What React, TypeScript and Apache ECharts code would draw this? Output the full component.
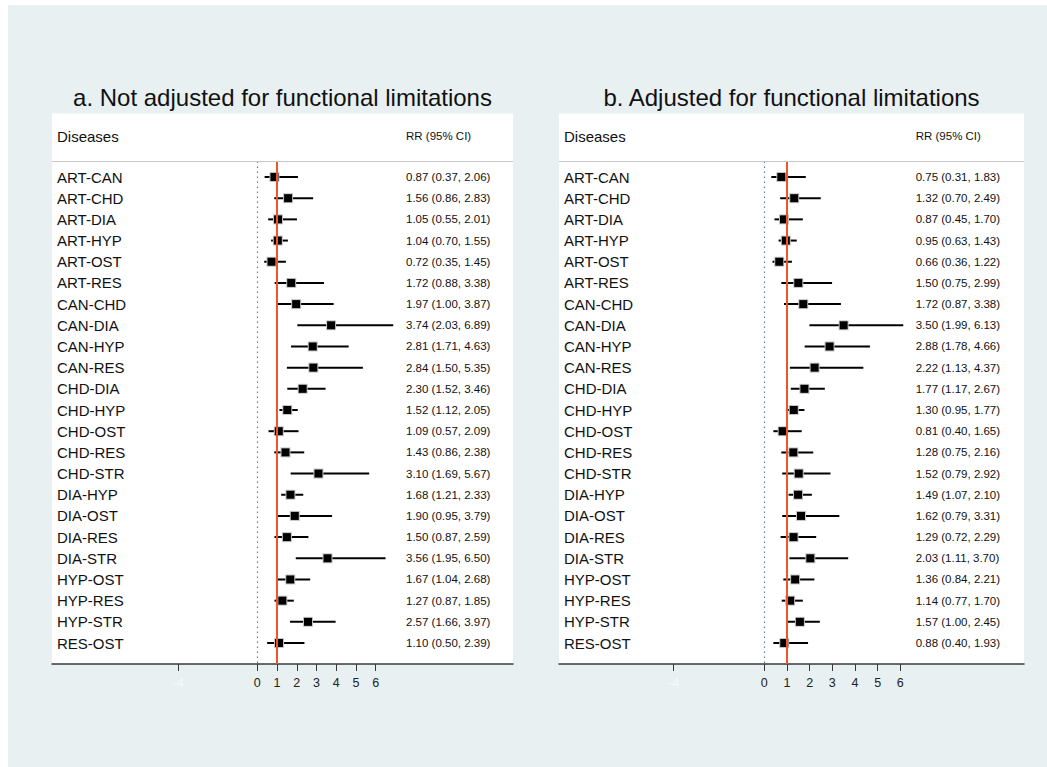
import React, { useEffect, useRef } from "react";
import * as echarts from "echarts";

const diseases = [
  "ART-CAN", "ART-CHD", "ART-DIA", "ART-HYP", "ART-OST", "ART-RES", "CAN-CHD", "CAN-DIA",
  "CAN-HYP", "CAN-RES", "CHD-DIA", "CHD-HYP", "CHD-OST", "CHD-RES", "CHD-STR", "DIA-HYP",
  "DIA-OST", "DIA-RES", "DIA-STR", "HYP-OST", "HYP-RES", "HYP-STR", "RES-OST",
];

const rrA = [0.87, 1.56, 1.05, 1.04, 0.72, 1.72, 1.97, 3.74, 2.81, 2.84, 2.30, 1.52, 1.09, 1.43, 3.10, 1.68, 1.90, 1.50, 3.56, 1.67, 1.27, 2.57, 1.10];
const loA = [0.37, 0.86, 0.55, 0.70, 0.35, 0.88, 1.00, 2.03, 1.71, 1.50, 1.52, 1.12, 0.57, 0.86, 1.69, 1.21, 0.95, 0.87, 1.95, 1.04, 0.87, 1.66, 0.50];
const hiA = [2.06, 2.83, 2.01, 1.55, 1.45, 3.38, 3.87, 6.89, 4.63, 5.35, 3.46, 2.05, 2.09, 2.38, 5.67, 2.33, 3.79, 2.59, 6.50, 2.68, 1.85, 3.97, 2.39];

const rrB = [0.75, 1.32, 0.87, 0.95, 0.66, 1.50, 1.72, 3.50, 2.88, 2.22, 1.77, 1.30, 0.81, 1.28, 1.52, 1.49, 1.62, 1.29, 2.03, 1.36, 1.14, 1.57, 0.88];
const loB = [0.31, 0.70, 0.45, 0.63, 0.36, 0.75, 0.87, 1.99, 1.78, 1.13, 1.17, 0.95, 0.40, 0.75, 0.79, 1.07, 0.79, 0.72, 1.11, 0.84, 0.77, 1.00, 0.40];
const hiB = [1.83, 2.49, 1.70, 1.43, 1.22, 2.99, 3.38, 6.13, 4.66, 4.37, 2.67, 1.77, 1.65, 2.16, 2.92, 2.10, 3.31, 2.29, 3.70, 2.21, 1.70, 2.45, 1.93];

const xTicks = [-4, 0, 1, 2, 3, 4, 5, 6];
const titles = ["a. Not adjusted for functional limitations", "b. Adjusted for functional limitations"];
const headerLeft = "Diseases";
const headerRight = "RR (95% CI)";

const FONT = "'Liberation Sans', Arial, Helvetica, sans-serif";

export default function App() {
  const ref = useRef<HTMLDivElement>(null);
  useEffect(() => {
    if (!ref.current) return;
    const chart = echarts.init(ref.current, null, { renderer: "svg" });

    const panelTop = 113.5;
    const sepY = 161.5;
    const axisY = 664;
    const yMin = -0.732;
    const yMax = 22.99;
    const panels = [
      { left: 52, right: 513, xMin: -10.405, xMax: 12.96, rr: rrA, lo: loA, hi: hiA, rrMargin: 107 },
      { left: 559, right: 1024, xMin: -9.056, xMax: 11.456, rr: rrB, lo: loB, hi: hiB, rrMargin: 108.3 },
    ];
    const rows = diseases.map((_, i) => i);
    const f2 = (v: number) => v.toFixed(2);

    const grid: any[] = [];
    const xAxis: any[] = [];
    const yAxis: any[] = [];
    const series: any[] = [];
    const graphic: any[] = [
      { type: "rect", z: -100, shape: { x: 8, y: 5, width: 1039, height: 762 }, style: { fill: "#e8f0f2" } },
    ];

    panels.forEach((p, i) => {
      const rrText = p.rr.map((v, k) => `${f2(v)} (${f2(p.lo[k])}, ${f2(p.hi[k])})`);
      grid.push({ left: p.left, top: sepY, width: p.right - p.left, height: axisY - sepY });
      xAxis.push({
        gridIndex: i,
        type: "value",
        min: p.xMin,
        max: p.xMax,
        position: "bottom",
        splitLine: { show: false },
        axisLine: { show: true, onZero: false, lineStyle: { color: "#3a3a3a", width: 1.5 } },
        axisTick: { show: true, customValues: xTicks, length: 7, lineStyle: { color: "#3a3a3a", width: 1 } },
        axisLabel: {
          customValues: xTicks,
          formatter: (v: number) => (v === -4 ? "{w|-4}" : String(v)),
          rich: { w: { color: "#f6fafb", fontSize: 12.5, fontFamily: FONT } },
          color: "#222",
          fontSize: 12.5,
          fontFamily: FONT,
          margin: 12,
        },
      });
      yAxis.push({
        gridIndex: i,
        type: "value",
        inverse: true,
        min: yMin,
        max: yMax,
        position: "left",
        splitLine: { show: false },
        axisLine: { show: false, onZero: false },
        axisTick: { show: false },
        axisLabel: {
          inside: true,
          margin: 5,
          customValues: rows,
          formatter: (v: number) => diseases[Math.round(v)] ?? "",
          color: "#111",
          fontSize: 15,
          fontFamily: FONT,
          align: "left",
        },
      });
      yAxis.push({
        gridIndex: i,
        type: "value",
        inverse: true,
        min: yMin,
        max: yMax,
        position: "right",
        splitLine: { show: false },
        axisLine: { show: false, onZero: false },
        axisTick: { show: false },
        axisLabel: {
          inside: true,
          margin: p.rrMargin,
          customValues: rows,
          formatter: (v: number) => rrText[Math.round(v)] ?? "",
          color: "#111",
          fontSize: 11.5,
          fontFamily: FONT,
          align: "left",
        },
      });

      series.push({
        type: "scatter",
        xAxisIndex: i,
        yAxisIndex: 2 * i,
        data: [],
        z: 1,
        silent: true,
        markLine: {
          silent: true,
          symbol: "none",
          label: { show: false },
          data: [
            { xAxis: 0, lineStyle: { color: "#5f7fa8", width: 1.2, type: [1.5, 3.5] } },
            { xAxis: 1, lineStyle: { color: "#ee5528", width: 2, type: "solid" } },
          ],
        },
      });
      series.push({
        type: "custom",
        xAxisIndex: i,
        yAxisIndex: 2 * i,
        z: 3,
        data: rows.map((k) => [p.lo[k], p.hi[k], p.rr[k], k]),
        encode: { x: [0, 1, 2], y: 3 },
        renderItem: (params: any, api: any) => {
          const row = api.value(3);
          const a = api.coord([api.value(0), row]);
          const b = api.coord([api.value(1), row]);
          const c = api.coord([api.value(2), row]);
          return {
            type: "group",
            children: [
              { type: "line", shape: { x1: a[0], y1: a[1], x2: b[0], y2: b[1] }, style: { stroke: "#000", lineWidth: 2 } },
              { type: "rect", shape: { x: c[0] - 5, y: c[1] - 5, width: 10, height: 10 }, style: { fill: "#c4c4c4" } },
              { type: "rect", shape: { x: c[0] - 4, y: c[1] - 4, width: 8, height: 8 }, style: { fill: "#000" } },
            ],
          };
        },
      });

      graphic.push(
        { type: "rect", z: -50, shape: { x: p.left, y: panelTop, width: p.right - p.left, height: axisY - panelTop }, style: { fill: "#ffffff" } },
        { type: "line", z: 50, shape: { x1: p.left, y1: sepY, x2: p.right, y2: sepY }, style: { stroke: "#c8c8c8", lineWidth: 1 } },
        {
          type: "text", z: 50, x: (p.left + p.right) / 2, y: 97,
          style: { text: titles[i], fill: "#111", font: `24px ${FONT}`, textAlign: "center", textVerticalAlign: "middle" },
        },
        {
          type: "text", z: 50, x: p.left + 5, y: 136,
          style: { text: headerLeft, fill: "#111", font: `15px ${FONT}`, textAlign: "left", textVerticalAlign: "middle" },
        },
        {
          type: "text", z: 50, x: p.right - p.rrMargin, y: 136,
          style: { text: headerRight, fill: "#111", font: `11.5px ${FONT}`, textAlign: "left", textVerticalAlign: "middle" },
        }
      );
    });

    chart.setOption({
      animation: false,
      backgroundColor: "#ffffff",
      grid,
      xAxis,
      yAxis,
      series,
      graphic,
    });
    return () => chart.dispose();
  }, []);

  return <div ref={ref} style={{ position: "fixed", left: 0, top: 0, width: 1047, height: 767 }} />;
}
